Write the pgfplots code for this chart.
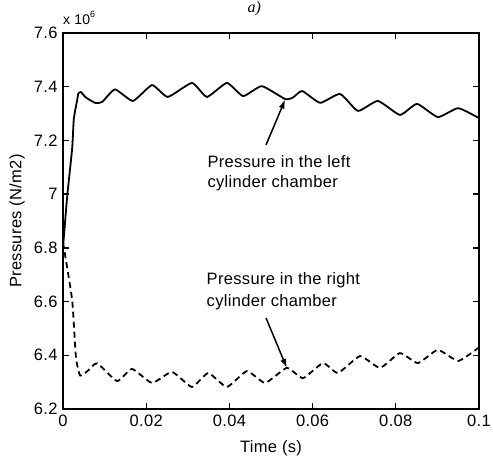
\documentclass[border=0pt]{standalone}
\usepackage{pgfplots}
\pgfplotsset{compat=1.18}
\usepackage{fontspec}
\setmainfont[LetterSpace=2]{Liberation Sans}
\newfontfamily\serifit{Liberation Serif}
\usetikzlibrary{arrows.meta}
\begin{document}
\begin{tikzpicture}[font=\fontsize{16.5}{20}\selectfont]
\useasboundingbox (-63pt,-48pt) rectangle (430pt,409pt);
\begin{axis}[
  scale only axis, width=416pt, height=376pt,
  at={(0pt,0pt)}, anchor=south west,
  xmin=0, xmax=0.1, ymin=6.2, ymax=7.6,
  xtick={0,0.02,0.04,0.06,0.08,0.1},
  xticklabels={0,0.02,0.04,0.06,0.08,0.1},
  ytick={6.2,6.4,6.6,6.8,7,7.2,7.4,7.6},
  yticklabels={6.2,6.4,6.6,6.8,7,7.2,7.4,7.6},
  tick align=inside, major tick length=6pt,
  axis line style={line width=1.6pt},
  every tick/.style={black, line width=1.3pt},
  xticklabel style={yshift=-2pt},
  yticklabel style={xshift=-2pt},
  xlabel={Time (s)}, ylabel={Pressures (N/m2)},
  xlabel style={at={(axis description cs:0.5,-0.117)}, anchor=base},
  ylabel style={at={(axis description cs:-0.1106,0.5)}, anchor=center},
  clip=false,
]
\addplot[black, line width=1.8pt, smooth, tension=0.3] coordinates {
(0,6.80) (0.001,6.99) (0.0022,7.17) (0.0026,7.28) (0.0034,7.35) (0.0037,7.375) (0.0043,7.38)
(0.0055,7.36) (0.0077,7.34) (0.0094,7.343) (0.0125,7.39) (0.0168,7.347) (0.0214,7.406)
(0.0252,7.362) (0.031,7.414) (0.0346,7.362) (0.0394,7.414) (0.0433,7.365) (0.0478,7.402)
(0.0534,7.354) (0.0553,7.36) (0.0575,7.384) (0.0618,7.34) (0.0666,7.373) (0.0709,7.31)
(0.0757,7.347) (0.081,7.295) (0.0851,7.336) (0.0901,7.287) (0.095,7.32) (0.1,7.283)
};
\addplot[black, line width=1.8pt, dash pattern=on 6pt off 4pt, smooth, tension=0.3] coordinates {
(0,6.82) (0.0022,6.606) (0.0031,6.394) (0.0041,6.325) (0.0058,6.34) (0.0082,6.37)
(0.013,6.304) (0.0166,6.349) (0.0214,6.297) (0.0262,6.338) (0.031,6.282) (0.0349,6.334)
(0.0394,6.282) (0.0442,6.341) (0.0486,6.297) (0.0538,6.353) (0.0577,6.315) (0.0625,6.371)
(0.0661,6.334) (0.0714,6.397) (0.0762,6.353) (0.081,6.408) (0.0853,6.371) (0.0901,6.42)
(0.095,6.379) (0.0998,6.427)
};
\draw[-{Latex[length=9pt,width=6pt]}, line width=1.5pt] (axis cs:0.0488,7.183) -- (axis cs:0.0534,7.352);
\draw[-{Latex[length=9pt,width=6pt]}, line width=1.5pt] (axis cs:0.0488,6.539) -- (axis cs:0.0538,6.353);
\node[anchor=base west] at (axis cs:0.0339,7.101) {Pressure in the left};
\node[anchor=base west] at (axis cs:0.0339,7.023) {cylinder chamber};
\node[anchor=base west] at (axis cs:0.0337,6.662) {Pressure in the right};
\node[anchor=base west] at (axis cs:0.0337,6.580) {cylinder chamber};
\node[anchor=base west, inner sep=0pt, font=\fontsize{14}{16}\selectfont] at ([yshift=8pt]rel axis cs:0,1) {x 10\raisebox{7pt}{\fontsize{9}{10}\selectfont 6}};
\node[anchor=base, inner sep=0pt, font=\serifit\itshape\fontsize{16}{19}\selectfont] at ([yshift=20pt]rel axis cs:0.46,1) {a)};
\end{axis}
\end{tikzpicture}
\end{document}
